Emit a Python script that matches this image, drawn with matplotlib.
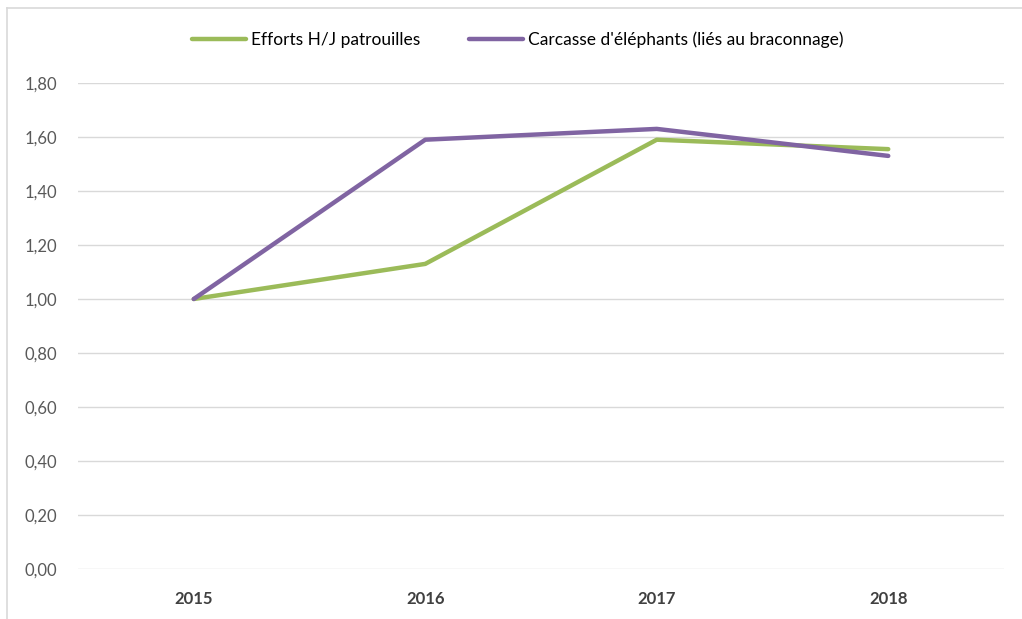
import matplotlib.pyplot as plt
from matplotlib.lines import Line2D

plt.rcParams['font.family'] = ['Lato', 'DejaVu Sans']

years = ['2015', '2016', '2017', '2018']
efforts = [1.00, 1.13, 1.59, 1.555]
carcasses = [1.00, 1.59, 1.63, 1.53]
yticks = [0.0, 0.2, 0.4, 0.6, 0.8, 1.0, 1.2, 1.4, 1.6, 1.8]

fig = plt.figure(figsize=(10.22, 6.19), dpi=100)
ax = fig.add_axes([78 / 1022, 1 - 569 / 619, (1004 - 78) / 1022, (569 - 83) / 619])

x = range(len(years))
ax.plot(x, efforts, color='#9BBB59', lw=3.2, label='Efforts H/J patrouilles', solid_capstyle='round')
ax.plot(x, carcasses, color='#8064A2', lw=3.2, label="Carcasse d'éléphants (liés au braconnage)", solid_capstyle='round')

ax.set_xlim(-0.5, len(years) - 0.5)
ax.set_ylim(0, 1.8)
ax.set_yticks(yticks)
ax.set_yticklabels([f'{v:.2f}'.replace('.', ',') for v in yticks], fontsize=12, color='#595959')
ax.set_xticks(list(x))
ax.set_xticklabels(years, fontsize=12, fontweight='bold', color='#404040')
ax.tick_params(axis='x', length=0, pad=16)
ax.tick_params(axis='y', length=0, pad=15)
ax.grid(axis='y', color='#D9D9D9', lw=1)
ax.set_axisbelow(True)
for s in ax.spines.values():
    s.set_visible(False)

ax.legend(loc='center', bbox_to_anchor=(518 / 1022, 1 - 40 / 619), bbox_transform=fig.transFigure,
          ncol=2, frameon=False, fontsize=12.5, handlelength=3.1, columnspacing=2.8, handletextpad=0.3)

# frame of the chart area
fig.add_artist(Line2D([7 / 1022, 7 / 1022], [0, 1 - 8 / 619], color='#D9D9D9', lw=1.2, transform=fig.transFigure))
fig.add_artist(Line2D([7 / 1022, 1], [1 - 8 / 619, 1 - 8 / 619], color='#D9D9D9', lw=1.2, transform=fig.transFigure))

fig.savefig('out.png', dpi=100)
